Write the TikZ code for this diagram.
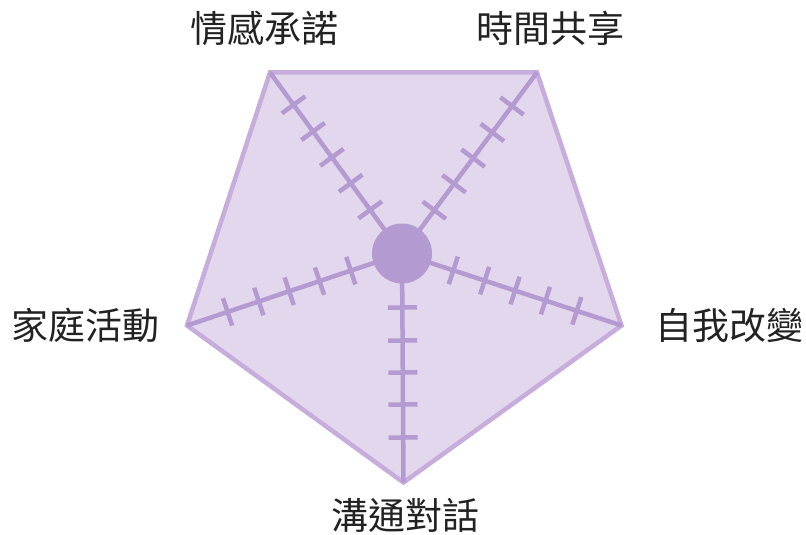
\documentclass[tikz,border=0pt]{standalone}
\usepackage{fontspec}
\newfontfamily\cjk{Noto Sans CJK TC}
\usetikzlibrary{calc}
\definecolor{penline}{HTML}{C6ADDB}
\definecolor{penfill}{HTML}{E3D7EE}
\definecolor{spoke}{HTML}{B39AD0}
\definecolor{txt}{HTML}{222222}
\tikzset{
  lbl/.style={font=\cjk\fontsize{37}{40}\selectfont, text=txt, inner sep=0pt, anchor=center},
  spokeline/.style={draw=spoke, line width=4.5pt},
  tickline/.style={draw=spoke, line width=4.5pt},
}
\begin{document}
\begin{tikzpicture}[x=1pt,y=-1pt]
\useasboundingbox (0,0) rectangle (806,535);
\coordinate (vtl) at (270,72.5);
\coordinate (vtr) at (537,72.5);
\coordinate (vr) at (621.5,325.5);
\coordinate (vb) at (403.5,482.5);
\coordinate (vl) at (187,325.5);
\coordinate (c) at (402,253.5);
\fill[penfill] (vtl) -- (vtr) -- (vr) -- (vb) -- (vl) -- cycle;
\draw[penline, line width=4.5pt, line join=miter] (vtl) -- (vtr) -- (vr) -- (vb) -- (vl) -- cycle;
\foreach \v in {vtl,vtr,vr,vb,vl}{
  \draw[spokeline] (c) -- (\v);
  \foreach \d in {54,87,119,151,184}{
    \path ($(c)!\d pt!(\v)$) coordinate (p);
    \draw[tickline] ($(p)!14.5pt!90:(\v)$) -- ($(p)!14.5pt!-90:(\v)$);
  }
}
\node[circle, fill=spoke, minimum size=60pt, inner sep=0pt] (hub) at (c) {};
\node[lbl] (l1) at (264,28) {情感承諾};
\node[lbl] (l2) at (550,28) {時間共享};
\node[lbl] (l3) at (86,325) {家庭活動};
\node[lbl] (l4) at (729,325) {自我改變};
\node[lbl] (l5) at (405,515) {溝通對話};
\end{tikzpicture}
\end{document}
